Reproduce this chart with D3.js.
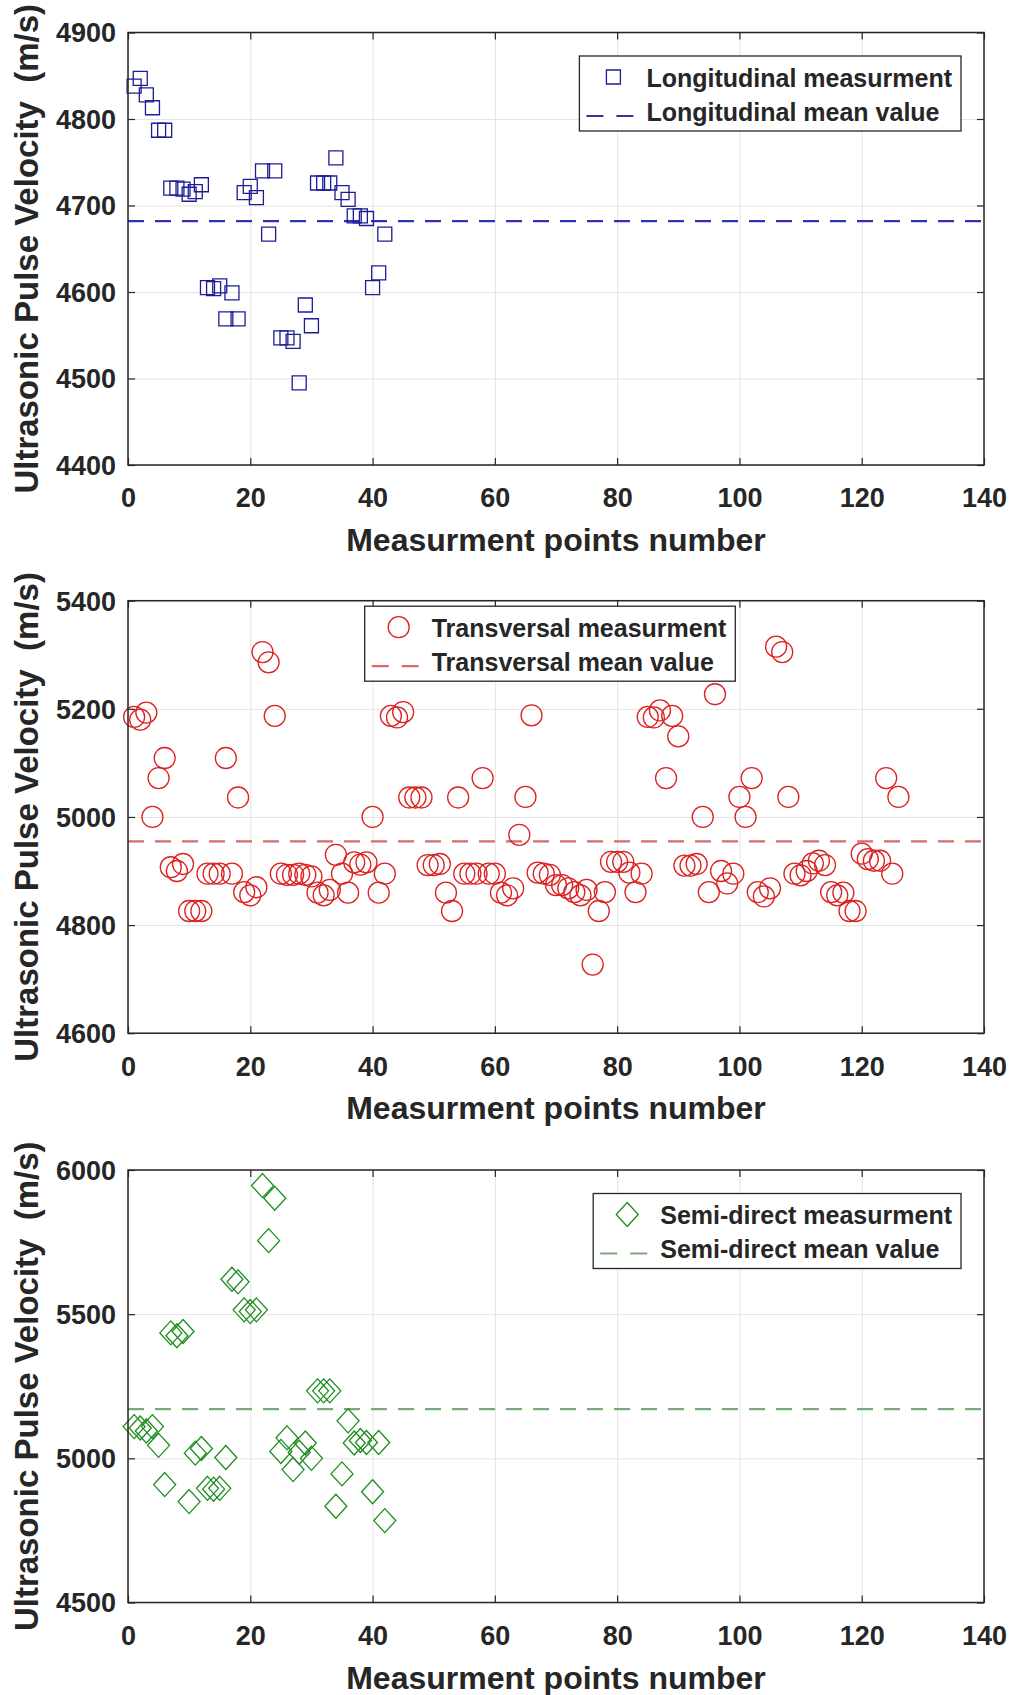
<!DOCTYPE html>
<html>
<head>
<meta charset="utf-8">
<script src="https://cdn.jsdelivr.net/npm/d3@7"></script>
<style>
body { margin: 0; background: #fff; }
svg text { font-family: "Liberation Sans", Arial, sans-serif; font-weight: bold; fill: #262626; }
</style>
</head>
<body>
<div id="chart"></div>
<script>
var longitudinal = [4838, 4847, 4828, 4813, 4787, 4787, 4720, 4720, 4719, 4713,
  4716, 4724, 4605, 4604, 4607, 4569, 4599, 4569, 4715, 4722,
  4709, 4740, 4667, 4740, 4547, 4547, 4543, 4495, 4585, 4561,
  4726, 4726, 4726, 4755, 4715, 4707, 4688, 4688, 4685, 4605,
  4622, 4667];
var longitudinalMean = 4682;

var transversal = [5185, 5180, 5193, 5000, 5072, 5109, 4907, 4900, 4913, 4826,
  4826, 4826, 4895, 4895, 4895, 5109, 4895, 5036, 4861, 4855,
  4870, 5305, 5286, 5187, 4895, 4893, 4893, 4895, 4893, 4890,
  4860, 4855, 4865, 4930, 4895, 4860, 4916, 4912, 4916, 5000,
  4860, 4895, 5187, 5184, 5194, 5036, 5036, 5036, 4911, 4911,
  4913, 4860, 4826, 5036, 4895, 4895, 4895, 5072, 4895, 4895,
  4860, 4855, 4868, 4967, 5037, 5188, 4897, 4895, 4893, 4874,
  4874, 4868, 4861, 4855, 4865, 4727, 4826, 4861, 4917, 4917,
  4917, 4897, 4861, 4895, 5185, 5184, 5197, 5072, 5187, 5149,
  4910, 4910, 4913, 5000, 4861, 5227, 4900, 4877, 4895, 5037,
  5000, 5072, 4861, 4853, 4868, 5315, 5305, 5037, 4895, 4892,
  4900, 4914, 4919, 4911, 4861, 4855, 4860, 4826, 4826, 4932,
  4922, 4919, 4919, 5072, 4895, 5037];
var transversalMean = 4955;

var semiDirect = [5110, 5105, 5095, 5110, 5045, 4909, 5435, 5425, 5440, 4850,
  5018, 5034, 4896, 4893, 4896, 5003, 5621, 5612, 5515, 5509,
  5515, 5946, 5755, 5902, 5024, 5071, 4961, 5021, 5053, 5000,
  5234, 5234, 5234, 4834, 4946, 5130, 5053, 5062, 5055, 4884,
  5055, 4784];
var semiDirectMean = 5171;

var xTicks = [0, 20, 40, 60, 80, 100, 120, 140];
var yTicksLong = [4400, 4500, 4600, 4700, 4800, 4900];
var yTicksTrans = [4600, 4800, 5000, 5200, 5400];
var yTicksSemi = [4500, 5000, 5500, 6000];

var xLabel = 'Measurment points number',
    yLabel = 'Ultrasonic Pulse Velocity  (m/s)';

var width = 1014, height = 1695,
    plotLeft = 128, plotRight = 984, plotHeight = 432.5;

var fmt = d3.format('d');

var svg = d3.select('#chart').append('svg')
  .attr('width', width).attr('height', height);

var shapes = {
  square: 'M-7,-7h14v14h-14z',
  circle: 'M10.5,0A10.5,10.5 0 1,1 -10.5,0A10.5,10.5 0 1,1 10.5,0Z',
  diamond: 'M0,-12L11,0L0,12L-11,0Z'
};

drawPanel({ top: 32.5, values: longitudinal, mean: longitudinalMean, yTicks: yTicksLong,
  shape: 'square', color: '#1c1c96', meanColor: '#3030b0',
  names: ['Longitudinal measurment', 'Longitudinal mean value'], legendAlign: 'right' });

drawPanel({ top: 600.7, values: transversal, mean: transversalMean, yTicks: yTicksTrans,
  shape: 'circle', color: '#dd2020', meanColor: '#d86a6a',
  names: ['Transversal measurment', 'Transversal mean value'], legendAlign: 'top' });

drawPanel({ top: 1170, values: semiDirect, mean: semiDirectMean, yTicks: yTicksSemi,
  shape: 'diamond', color: '#1e8c1e', meanColor: '#78aa78',
  names: ['Semi-direct measurment', 'Semi-direct mean value'], legendAlign: 'right' });

function drawPanel(o) {
  var x = d3.scaleLinear().domain([0, 140]).range([plotLeft, plotRight]);
  var y = d3.scaleLinear().domain(d3.extent(o.yTicks)).range([o.top + plotHeight, o.top]);
  var bottom = o.top + plotHeight;

  var g = svg.append('g');

  // grid
  g.append('g').attr('transform', `translate(0,${bottom})`)
    .call(d3.axisBottom(x).tickValues(xTicks).tickSize(-plotHeight).tickFormat(''))
    .call(grid);
  g.append('g').attr('transform', `translate(${plotLeft},0)`)
    .call(d3.axisLeft(y).tickValues(o.yTicks).tickSize(-(plotRight - plotLeft)).tickFormat(''))
    .call(grid);

  // ticks on all four sides, pointing in
  var bx = g.append('g').attr('transform', `translate(0,${bottom})`)
    .call(d3.axisBottom(x).tickValues(xTicks).tickSizeInner(-7).tickSizeOuter(0).tickFormat(fmt))
    .call(ticks);
  bx.selectAll('text').attr('y', 33).attr('dy', '0.35em').style('font-size', '27px');

  g.append('g').attr('transform', `translate(0,${o.top})`)
    .call(d3.axisTop(x).tickValues(xTicks).tickSizeInner(-7).tickSizeOuter(0).tickFormat(''))
    .call(ticks);

  var ly = g.append('g').attr('transform', `translate(${plotLeft},0)`)
    .call(d3.axisLeft(y).tickValues(o.yTicks).tickSizeInner(-7).tickSizeOuter(0).tickFormat(fmt))
    .call(ticks);
  ly.selectAll('text').attr('x', -12).attr('dy', '0.35em').style('font-size', '27px');

  g.append('g').attr('transform', `translate(${plotRight},0)`)
    .call(d3.axisRight(y).tickValues(o.yTicks).tickSizeInner(-7).tickSizeOuter(0).tickFormat(''))
    .call(ticks);

  // mean line
  g.append('line')
    .attr('x1', x(0)).attr('x2', x(140))
    .attr('y1', y(o.mean)).attr('y2', y(o.mean))
    .attr('stroke', o.meanColor).attr('stroke-width', 2.2)
    .attr('stroke-dasharray', '16,11');

  // measurement markers
  g.append('g').selectAll('path')
    .data(o.values)
    .enter().append('path')
    .attr('transform', (d, i) => `translate(${x(i + 1)},${y(d)})`)
    .attr('d', shapes[o.shape])
    .attr('fill', 'none')
    .attr('stroke', o.color)
    .attr('stroke-width', 1.3);

  // box
  g.append('rect')
    .attr('x', plotLeft).attr('y', o.top)
    .attr('width', plotRight - plotLeft).attr('height', plotHeight)
    .attr('fill', 'none').attr('stroke', '#262626').attr('stroke-width', 1.5);

  // axis titles
  g.append('text')
    .attr('x', (plotLeft + plotRight) / 2).attr('y', bottom + 75)
    .attr('dy', '0.35em').attr('text-anchor', 'middle')
    .style('font-size', '32px')
    .text(xLabel);

  g.append('text')
    .attr('transform', `translate(26,${o.top + plotHeight / 2})rotate(-90)`)
    .attr('dy', '0.35em').attr('text-anchor', 'middle')
    .style('font-size', '33px').style('white-space', 'pre')
    .text(yLabel);

  drawLegend(g, o);
}

function drawLegend(g, o) {
  var leg = g.append('g');
  var box = leg.append('rect')
    .attr('fill', '#fff').attr('stroke', '#262626').attr('stroke-width', 1.3);

  var t1 = leg.append('text').attr('x', 67).attr('y', 22).attr('dy', '0.35em')
    .style('font-size', '25px').text(o.names[0]);
  var t2 = leg.append('text').attr('x', 67).attr('y', 56).attr('dy', '0.35em')
    .style('font-size', '25px').text(o.names[1]);

  leg.append('path')
    .attr('transform', 'translate(34,21)')
    .attr('d', shapes[o.shape])
    .attr('fill', 'none').attr('stroke', o.color).attr('stroke-width', 1.3);

  leg.append('line')
    .attr('x1', 7).attr('x2', 54).attr('y1', 60).attr('y2', 60)
    .attr('stroke', o.meanColor).attr('stroke-width', 2.2)
    .attr('stroke-dasharray', '17,13');

  var w = 67 + Math.max(t1.node().getComputedTextLength(), t2.node().getComputedTextLength()) + 9,
      h = 75;
  box.attr('width', w).attr('height', h);

  var lx, ly;
  if (o.legendAlign == 'top') {
    lx = (plotLeft + plotRight) / 2 - 6 - w / 2;
    ly = o.top + 5.5;
  } else {
    lx = plotRight - 23 - w;
    ly = o.top + 23.5;
  }
  leg.attr('transform', `translate(${lx},${ly})`);
}

function grid(sel) {
  sel.select('.domain').remove();
  sel.selectAll('line').attr('stroke', '#e3e3e3').attr('stroke-width', 1);
}

function ticks(sel) {
  sel.select('.domain').remove();
  sel.selectAll('line').attr('stroke', '#262626').attr('stroke-width', 1.2);
  sel.selectAll('text').attr('fill', '#262626');
}
</script>
</body>
</html>
